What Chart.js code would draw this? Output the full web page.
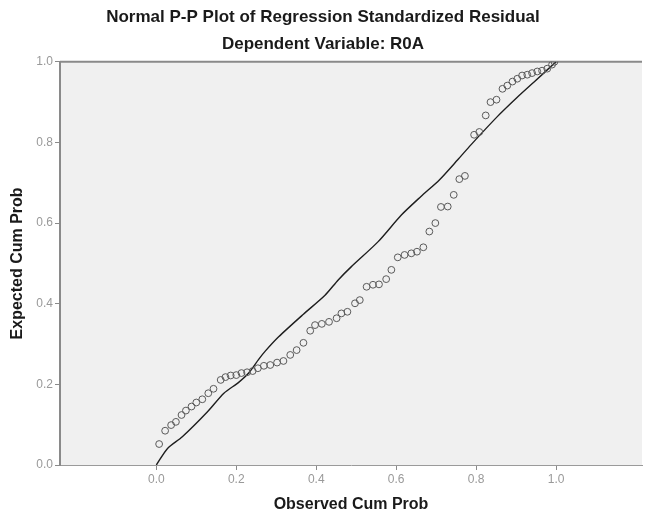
<!DOCTYPE html>
<html>
<head>
<meta charset="utf-8">
<style>
  html, body { margin: 0; padding: 0; background: #fff; }
  #wrap { width: 647px; height: 516px; }
</style>
<script src="https://cdn.jsdelivr.net/npm/chart.js@4"></script>
</head>
<body>
<div id="wrap"><canvas id="ppChart"></canvas></div>
<script>
// values
const observedCum = [0.007, 0.022, 0.037, 0.049, 0.063, 0.074, 0.088, 0.100, 0.115, 0.130,
  0.143, 0.161, 0.173, 0.186, 0.200, 0.213, 0.227, 0.241, 0.254, 0.269,
  0.285, 0.302, 0.318, 0.335, 0.351, 0.368, 0.385, 0.397, 0.414, 0.432,
  0.451, 0.463, 0.478, 0.497, 0.509, 0.526, 0.542, 0.557, 0.575, 0.588,
  0.604, 0.621, 0.638, 0.652, 0.668, 0.683, 0.698, 0.712, 0.729, 0.744,
  0.758, 0.772, 0.795, 0.808, 0.824, 0.836, 0.851, 0.866, 0.878, 0.891,
  0.903, 0.915, 0.928, 0.940, 0.953, 0.965, 0.978, 0.990, 0.996];
const expectedCum = [0.052, 0.085, 0.099, 0.107, 0.124, 0.135, 0.145, 0.155, 0.163, 0.178,
  0.189, 0.211, 0.218, 0.222, 0.223, 0.228, 0.230, 0.233, 0.240, 0.246,
  0.248, 0.254, 0.258, 0.273, 0.285, 0.303, 0.333, 0.347, 0.350, 0.355,
  0.364, 0.376, 0.380, 0.401, 0.409, 0.442, 0.447, 0.448, 0.461, 0.484,
  0.515, 0.521, 0.525, 0.529, 0.540, 0.579, 0.600, 0.640, 0.641, 0.670,
  0.709, 0.717, 0.819, 0.826, 0.867, 0.900, 0.906, 0.933, 0.941, 0.951,
  0.958, 0.966, 0.968, 0.972, 0.976, 0.978, 0.983, 0.993, 1.000];

// the reference line, traced
const refLineX = [0, 0.028, 0.065, 0.128, 0.169, 0.206, 0.231, 0.256, 0.273, 0.306,
  0.368, 0.422, 0.455, 0.488, 0.555, 0.613, 0.662, 0.708, 0.754, 0.787,
  0.853, 0.903, 0.945, 1.0];
const refLineY = [0, 0.041, 0.070, 0.132, 0.178, 0.205, 0.228, 0.262, 0.283, 0.318,
  0.374, 0.421, 0.459, 0.492, 0.554, 0.620, 0.666, 0.707, 0.757, 0.794,
  0.864, 0.912, 0.950, 1.0];

const xTickValues = [0, 0.2, 0.4, 0.6, 0.8, 1.0];
const yTickValues = [0, 0.2, 0.4, 0.6, 0.8, 1.0];

const titleText = "Normal P-P Plot of Regression Standardized Residual";
const subtitleText = "Dependent Variable: R0A";
const xTitle = "Observed Cum Prob";
const yTitle = "Expected Cum Prob";

const FONT = "'Liberation Sans', Arial, sans-serif";

// grey plot background and top border
const plotBackground = {
  id: "plotBackground",
  beforeDraw(chart) {
    const { ctx, chartArea: a } = chart;
    ctx.save();
    ctx.fillStyle = "#f0f0f0";
    ctx.fillRect(a.left, a.top, a.right - a.left, a.bottom - a.top);
    ctx.strokeStyle = "#8a8a8a";
    ctx.lineWidth = 2;
    ctx.beginPath();
    ctx.moveTo(a.left, a.top);
    ctx.lineTo(a.right, a.top);
    ctx.stroke();
    ctx.restore();
  }
};

const points = observedCum.map((x, i) => ({ x, y: expectedCum[i] }));
const refLine = refLineX.map((x, i) => ({ x, y: refLineY[i] }));

new Chart(document.getElementById("ppChart"), {
  type: "scatter",
  data: {
    datasets: [
      {
        label: "line",
        data: refLine,
        showLine: true,
        borderColor: "#1e1e1e",
        borderWidth: 1.4,
        pointRadius: 0,
        tension: 0.25,
        order: 2
      },
      {
        label: "points",
        data: points,
        showLine: false,
        pointRadius: 3.4,
        pointBorderWidth: 1,
        pointBorderColor: "#5a5a5a",
        pointBackgroundColor: "rgba(0,0,0,0)",
        order: 1
      }
    ]
  },
  plugins: [plotBackground],
  options: {
    responsive: true,
    maintainAspectRatio: false,
    animation: false,
    layout: { padding: { left: 0, right: 1, top: 0, bottom: 0 } },
    plugins: {
      legend: { display: false },
      tooltip: { enabled: false },
      title: {
        display: true,
        text: titleText,
        color: "#1a1a1a",
        font: { family: FONT, size: 17, weight: "bold" },
        padding: { top: 7, bottom: 7 }
      },
      subtitle: {
        display: true,
        text: subtitleText,
        color: "#1a1a1a",
        font: { family: FONT, size: 17, weight: "bold" },
        padding: { top: 0, bottom: 7 }
      }
    },
    scales: {
      x: {
        type: "linear",
        min: -0.241,
        max: 1.215,
        afterBuildTicks: s => { s.ticks = xTickValues.map(v => ({ value: v })); },
        afterFit: s => { s.height = 51; },
        grid: { drawOnChartArea: false, drawTicks: true, tickLength: 5, color: "#8a8a8a" },
        border: { color: "#9a9a9a", width: 1 },
        ticks: {
          color: "#999",
          padding: 2,
          font: { family: FONT, size: 12 },
          callback: v => Number(v).toFixed(1)
        },
        title: {
          display: true,
          text: xTitle,
          color: "#1a1a1a",
          font: { family: FONT, size: 16, weight: "bold" },
          padding: { top: 2, bottom: 2 }
        }
      },
      y: {
        type: "linear",
        min: 0,
        max: 1,
        afterBuildTicks: s => { s.ticks = yTickValues.map(v => ({ value: v })); },
        afterFit: s => { s.width = 60; },
        grid: { drawOnChartArea: false, drawTicks: true, tickLength: 5, color: "#8a8a8a" },
        border: { color: "#8a8a8a", width: 2 },
        ticks: {
          color: "#999",
          padding: 2,
          font: { family: FONT, size: 12 },
          callback: v => Number(v).toFixed(1)
        },
        title: {
          display: true,
          text: yTitle,
          color: "#1a1a1a",
          font: { family: FONT, size: 16, weight: "bold" },
          padding: { top: 8, bottom: 0 }
        }
      }
    }
  }
});
</script>
</body>
</html>
